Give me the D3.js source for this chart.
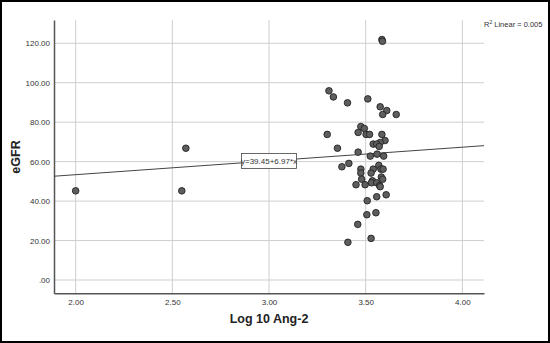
<!DOCTYPE html>
<html>
<head>
  <meta charset="utf-8">
  <title>eGFR vs Log 10 Ang-2</title>
  <script src="https://d3js.org/d3.v7.min.js"></script>
  <style>
    body { margin: 0; background: #fff; }
    svg { display: block; font-family: "Liberation Sans", Arial, sans-serif; }
  </style>
</head>
<body>
  <script>
    // Points
    const logAng2 = [2.000, 2.549, 2.570, 3.310, 3.333, 3.406, 3.511, 3.575, 3.609, 3.588,
      3.658, 3.584, 3.587, 3.301, 3.354, 3.475, 3.493, 3.461, 3.502, 3.520,
      3.584, 3.600, 3.575, 3.539, 3.557, 3.570, 3.461, 3.559, 3.524, 3.593,
      3.377, 3.413, 3.568, 3.475, 3.475, 3.539, 3.528, 3.579, 3.590, 3.479,
      3.581, 3.588, 3.450, 3.497, 3.535, 3.530, 3.557, 3.572, 3.575, 3.606,
      3.557, 3.508, 3.553, 3.506, 3.459, 3.528, 3.408];
    const egfr = [45.2, 45.2, 66.8, 95.9, 92.8, 89.8, 91.8, 87.8, 85.9, 83.9,
      83.9, 121.9, 121.0, 73.8, 66.8, 77.8, 76.8, 74.8, 73.8, 73.8,
      73.8, 70.7, 69.7, 68.9, 68.9, 67.7, 64.8, 63.8, 62.8, 62.8,
      57.4, 59.1, 58.1, 56.2, 54.2, 56.2, 54.2, 56.2, 56.2, 51.1,
      52.2, 51.1, 48.3, 48.3, 50.3, 49.3, 49.3, 47.9, 47.3, 43.2,
      42.2, 40.2, 34.1, 33.1, 28.2, 21.1, 19.1];

    const xTicks = [2.0, 2.5, 3.0, 3.5, 4.0];
    const yTicks = [0, 20, 40, 60, 80, 100, 120];
    const fit = [39.45, 6.97]; // intercept, slope
    const rSquared = "0.005";

    const W = 550, H = 343;
    const svg = d3.select("body").append("svg")
      .attr("width", W).attr("height", H);

    // outer frame
    svg.append("rect")
      .attr("x", 1).attr("y", 1)
      .attr("width", W - 2).attr("height", H - 2)
      .attr("fill", "#fff").attr("stroke", "#000").attr("stroke-width", 2);

    const x = d3.scaleLinear().domain([1.888, 4.112]).range([54, 484]);
    const y = d3.scaleLinear().domain([-6.74, 131.8]).range([293.3, 20]);

    // grid lines
    svg.append("g").selectAll("line.h")
      .data(yTicks).enter().append("line")
      .attr("x1", x.range()[0]).attr("x2", x.range()[1])
      .attr("y1", d => y(d)).attr("y2", d => y(d))
      .attr("stroke", "#cfcfcf").attr("stroke-width", 1);

    svg.append("g").selectAll("line.v")
      .data(xTicks).enter().append("line")
      .attr("y1", y.range()[0]).attr("y2", y.range()[1])
      .attr("x1", d => x(d)).attr("x2", d => x(d))
      .attr("stroke", "#cfcfcf").attr("stroke-width", 1);

    // axes
    const yAxis = d3.axisLeft(y).tickValues(yTicks).tickSize(0).tickPadding(4)
      .tickFormat(d => d === 0 ? ".00" : d3.format(".2f")(d));
    const gy = svg.append("g").attr("transform", "translate(" + x.range()[0] + ",0)").call(yAxis);
    const xAxis = d3.axisBottom(x).tickValues(xTicks).tickSize(0).tickPadding(6)
      .tickFormat(d3.format(".2f"));
    const gx = svg.append("g").attr("transform", "translate(0," + y.range()[0] + ")").call(xAxis);

    [gx, gy].forEach(g => {
      g.select(".domain").attr("stroke", "#555").attr("stroke-width", 1.5);
      g.selectAll("text").attr("font-size", 8).attr("fill", "#333")
        .attr("font-family", "Liberation Sans, Arial, sans-serif");
    });

    // regression line
    const x0 = x.domain()[0], x1 = x.domain()[1];
    svg.append("line")
      .attr("x1", x(x0)).attr("y1", y(fit[0] + fit[1] * x0))
      .attr("x2", x(x1)).attr("y2", y(fit[0] + fit[1] * x1))
      .attr("stroke", "#444").attr("stroke-width", 1);

    // points
    const pts = logAng2.map((v, i) => ({ x: v, y: egfr[i] }));
    svg.append("g").selectAll("circle")
      .data(pts).enter().append("circle")
      .attr("cx", d => x(d.x)).attr("cy", d => y(d.y))
      .attr("r", 3.3)
      .attr("fill", "#5e5e5e").attr("stroke", "#222").attr("stroke-width", 0.9);

    // equation label
    const lx = 3.0, ly = fit[0] + fit[1] * lx;
    const lab = svg.append("g").attr("transform", "translate(" + x(lx) + "," + y(ly) + ")");
    lab.append("rect")
      .attr("x", -27.5).attr("y", -7.5).attr("width", 55).attr("height", 15)
      .attr("fill", "#fff").attr("stroke", "#444").attr("stroke-width", 0.8);
    lab.append("text")
      .attr("text-anchor", "middle").attr("dy", "0.35em")
      .attr("font-size", 8).attr("fill", "#333")
      .text("y=" + fit[0].toFixed(2) + "+" + fit[1].toFixed(2) + "*x");

    // R squared
    const r2 = svg.append("text").attr("x", 484).attr("y", 27)
      .attr("font-size", 7.5).attr("fill", "#333");
    r2.append("tspan").text("R");
    r2.append("tspan").attr("font-size", 5).attr("dy", -3).text("2");
    r2.append("tspan").attr("dy", 3).text(" Linear = " + rSquared);

    // axis titles
    svg.append("text")
      .attr("x", 269).attr("y", 323)
      .attr("text-anchor", "middle")
      .attr("font-size", 12.5).attr("font-weight", "bold").attr("fill", "#222")
      .text("Log 10 Ang-2");

    svg.append("text")
      .attr("transform", "translate(20,157) rotate(-90)")
      .attr("text-anchor", "middle")
      .attr("font-size", 12.5).attr("font-weight", "bold").attr("fill", "#222")
      .text("eGFR");
  </script>
</body>
</html>
